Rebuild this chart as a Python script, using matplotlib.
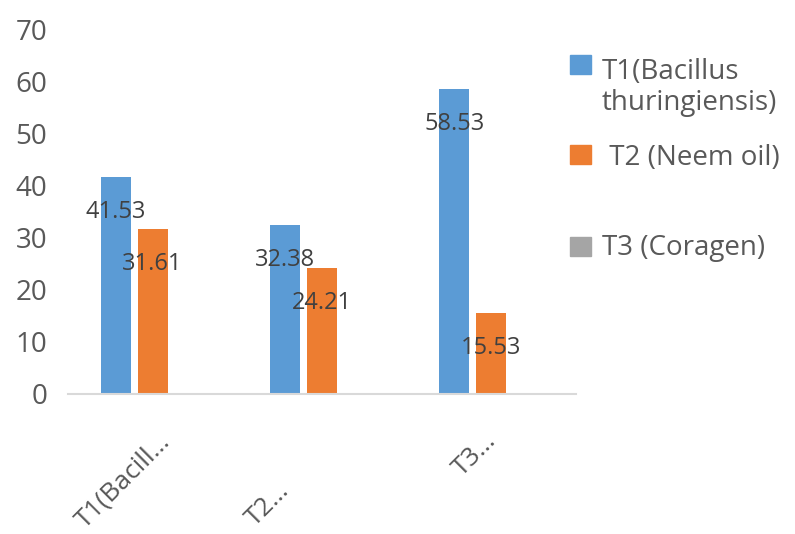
import matplotlib
matplotlib.use("Agg")
import matplotlib.pyplot as plt
from matplotlib.patches import Rectangle
from matplotlib.transforms import ScaledTranslation
import numpy as np

# Category tick labels (as truncated on the axis)
categories = ["T1(Bacill…", "T2…", "T3…"]

# Series names for the legend
series_names = ["T1(Bacillus\nthuringiensis)", " T2 (Neem oil)", "T3 (Coragen)"]

# Values per series, one value per category
t1_values = [41.53, 32.38, 58.53]
t2_values = [31.61, 24.21, 15.53]
t3_values = [0.0, 0.0, 0.0]

y_ticks = [0, 10, 20, 30, 40, 50, 60, 70]

colors = ["#5B9BD5", "#ED7D31", "#A5A5A5"]
text_grey = "#595959"
label_dark = "#404040"
font = "Open Sans"

W, H, DPI = 795, 534, 100
fig = plt.figure(figsize=(W / DPI, H / DPI), dpi=DPI)
ax = fig.add_axes([68 / W, 1 - 394 / H, (576 - 68) / W, (394 - 29) / H])

x = np.arange(len(categories))
bar_w = 0.177
step = 0.219
all_series = [t1_values, t2_values, t3_values]
for i, (vals, col) in enumerate(zip(all_series, colors)):
    offs = (i - 1) * step
    bars = ax.bar(x + offs, vals, width=bar_w, color=col, zorder=2)
    if i < 2:
        for b, v in zip(bars, vals):
            ax.annotate(f"{v:.2f}", xy=(b.get_x() + b.get_width() / 2, v),
                        xytext=(0, -41), textcoords="offset pixels",
                        ha="center", va="baseline", fontsize=17,
                        color=label_dark, family=font, zorder=3)

ax.set_xlim(-0.5, len(categories) - 0.5)
ax.set_ylim(0, 70)
ax.set_yticks(y_ticks)
ax.set_yticklabels([str(t) for t in y_ticks], fontsize=20, color=text_grey,
                   family=font)
ax.tick_params(axis="y", length=0, pad=15)

for s in ["top", "right", "left"]:
    ax.spines[s].set_visible(False)
ax.spines["bottom"].set_color("#D9D9D9")
ax.spines["bottom"].set_linewidth(1.5)

# Rotated category labels, each anchored at its right end (pixel nudges)
ax.set_xticks(x)
ax.set_xticklabels([])
ax.tick_params(axis="x", length=0)
nudges = [(18, -48), (-32, -98), (6, -48)]
for xi, lbl, (dx, dy) in zip(x, categories, nudges):
    tr = ax.get_xaxis_transform() + ScaledTranslation(dx / DPI, dy / DPI,
                                                      fig.dpi_scale_trans)
    ax.text(xi, 0, lbl, transform=tr, rotation=45, ha="right", va="baseline",
            rotation_mode="anchor", fontsize=19, color=text_grey, family=font,
            clip_on=False)

# Legend drawn on the right side of the figure
marker_tops = [55, 145, 237]
first_baselines = [75, 165, 255]
line_gap = 35
for name, col, top, base in zip(series_names, colors, marker_tops, first_baselines):
    fig.patches.append(Rectangle((570 / W, 1 - (top + 19) / H), 21 / W, 19 / H,
                                 transform=fig.transFigure, color=col))
    last_base = base + line_gap * name.count("\n")
    fig.text(602 / W, 1 - last_base / H, name, ha="left", va="baseline",
             fontsize=20, color=text_grey, family=font, linespacing=1.15)

fig.savefig("out.png", dpi=DPI)
